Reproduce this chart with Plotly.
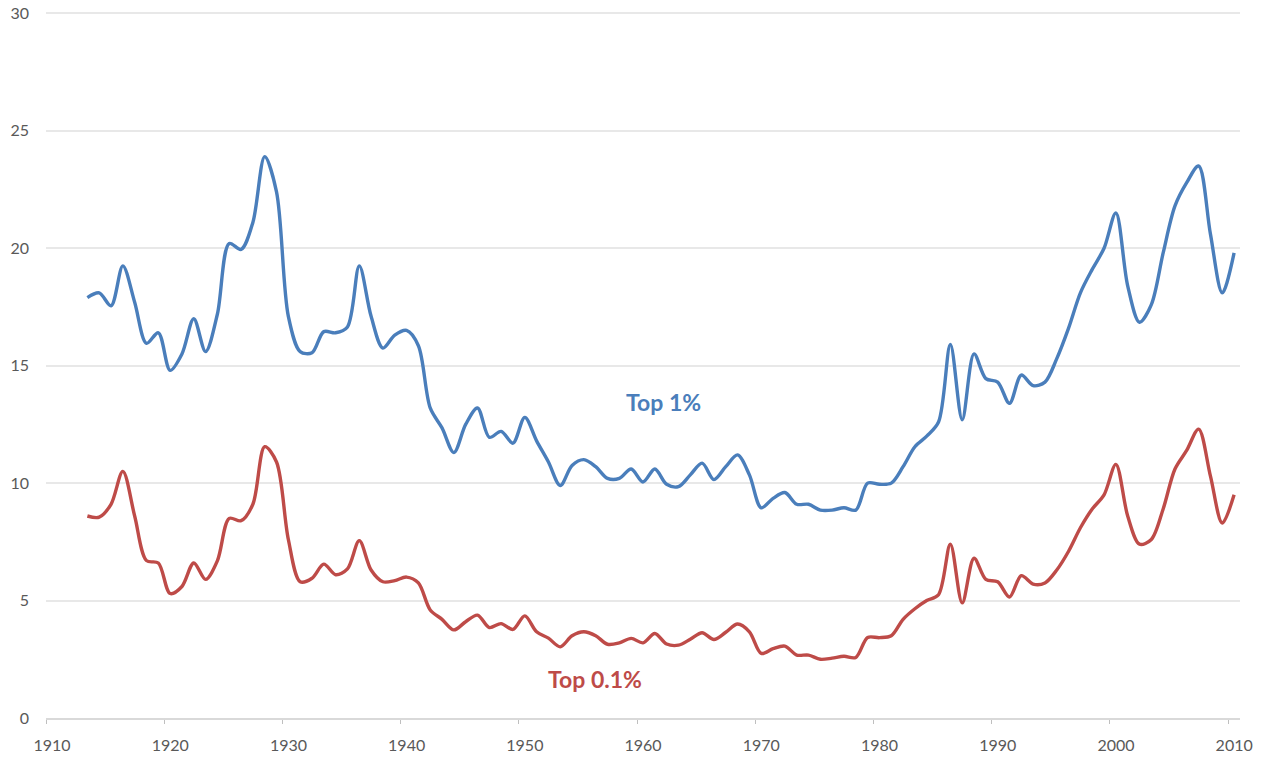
import plotly.graph_objects as go

years = list(range(1913, 2011))

top1 = [17.9, 18.1, 17.55, 19.25, 17.7, 15.95, 16.4, 14.8, 15.5, 17.0,
        15.6, 17.2, 20.2, 19.95, 21.1, 23.9, 22.4, 17.1, 15.6, 15.55,
        16.45, 16.4, 16.65, 19.25, 17.1, 15.75, 16.3, 16.5, 15.85, 13.2,
        12.35, 11.3, 12.5, 13.2, 11.95, 12.2, 11.7, 12.8, 11.8, 10.9,
        9.9, 10.75, 11.0, 10.7, 10.2, 10.2, 10.6, 10.05, 10.6, 9.95,
        9.85, 10.35, 10.85, 10.15, 10.7, 11.2, 10.35, 8.95, 9.35, 9.6,
        9.1, 9.1, 8.85, 8.85, 8.95, 8.85, 10.0, 9.95, 10.0, 10.7,
        11.55, 12.0, 12.6, 15.9, 12.7, 15.5, 14.45, 14.3, 13.4, 14.6,
        14.15, 14.3, 15.3, 16.6, 18.1, 19.1, 20.0, 21.5, 18.4, 16.85,
        17.6, 19.8, 21.8, 22.8, 23.5, 20.6, 18.1, 19.8]

top01 = [8.6, 8.55, 9.1, 10.5, 8.6, 6.7, 6.6, 5.3, 5.6, 6.6,
         5.9, 6.7, 8.5, 8.4, 9.1, 11.55, 10.9, 7.6, 5.8, 5.95,
         6.55, 6.1, 6.35, 7.55, 6.3, 5.8, 5.85, 6.0, 5.75, 4.6,
         4.2, 3.75, 4.1, 4.38, 3.85, 4.02, 3.77, 4.35, 3.67, 3.4,
         3.03, 3.5, 3.67, 3.5, 3.14, 3.2, 3.39, 3.2, 3.6, 3.15,
         3.1, 3.35, 3.63, 3.34, 3.65, 4.0, 3.67, 2.75, 2.95, 3.06,
         2.68, 2.68, 2.5, 2.55, 2.63, 2.58, 3.43, 3.42, 3.5, 4.2,
         4.65, 5.0, 5.25, 7.4, 4.9, 6.8, 5.9, 5.8, 5.15, 6.06,
         5.7, 5.75, 6.3, 7.1, 8.1, 8.9, 9.5, 10.8, 8.6, 7.4,
         7.6, 8.9, 10.6, 11.4, 12.3, 10.3, 8.3, 9.5]

x_ticks = list(range(1910, 2011, 10))
y_ticks = [0, 5, 10, 15, 20, 25, 30]

# annual values plotted at mid-year
xpos = [y + 0.5 for y in years]

BLUE = "#4A7EBB"
RED = "#BE4B48"
FONT = "Lato, Open Sans, sans-serif"

fig = go.Figure()
fig.add_trace(go.Scatter(x=xpos, y=top1, mode="lines", name="Top 1%",
                         line=dict(color=BLUE, width=3.4, shape="spline", smoothing=0.9)))
fig.add_trace(go.Scatter(x=xpos, y=top01, mode="lines", name="Top 0.1%",
                         line=dict(color=RED, width=3.4, shape="spline", smoothing=0.9)))

fig.add_annotation(x=1962.2, y=13.47, text="<b>Top 1%</b>", showarrow=False,
                   font=dict(family=FONT, size=23, color=BLUE))
fig.add_annotation(x=1956.4, y=1.66, text="<b>Top 0.1%</b>", showarrow=False,
                   font=dict(family=FONT, size=23, color=RED))

fig.update_layout(
    width=1267, height=757,
    margin=dict(l=46, r=27, t=11, b=39, autoexpand=False),
    plot_bgcolor="white", paper_bgcolor="white",
    showlegend=False,
    font=dict(family=FONT, size=16, color="#595959"),
    xaxis=dict(range=[1910, 2011], tickvals=x_ticks, ticktext=[str(v) for v in x_ticks],
               showgrid=False, zeroline=False, showline=True, linecolor="#D9D9D9",
               linewidth=2, ticks="outside", ticklen=4, tickwidth=1, tickcolor="#BFBFBF",
               automargin=False, ticklabelstandoff=8, ticklabelshift=6,
               tickfont=dict(family=FONT, size=16, color="#595959")),
    yaxis=dict(range=[0, 30.1], tickvals=y_ticks, showgrid=True, gridcolor="#E8E8E8",
               gridwidth=2, zeroline=False, showline=False, ticks="",
               automargin=False, ticklabelstandoff=16, ticklabeloverflow="allow",
               tickfont=dict(family=FONT, size=16, color="#595959")),
)

fig.write_html("out.html", config={"displayModeBar": False},
               post_script="document.body.style.margin='0';document.body.style.overflow='hidden';")
